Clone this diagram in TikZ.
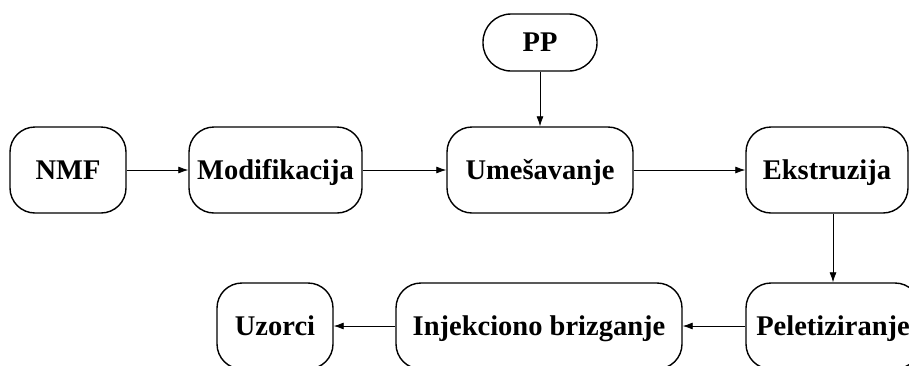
\documentclass[tikz,border=0pt]{standalone}
\usepackage{fontspec}
\setmainfont{Liberation Serif}
\usetikzlibrary{arrows.meta}
\begin{document}
\begin{tikzpicture}[x=1pt,y=1pt,
  procbox/.style={draw, line width=1.4pt, rounded corners=25pt, inner sep=0pt,
    minimum height=86pt, text height=22pt, text depth=3.3pt,
    font=\fontsize{28.5}{32}\selectfont\bfseries},
  flow/.style={-{Latex[length=10pt,width=7pt]}, line width=0.8pt}]
\useasboundingbox (0,0) rectangle (909,-365);
\node[procbox, minimum width=116pt] (nmf) at (68,-170) {NMF};
\node[procbox, minimum width=173pt] (mod) at (275.5,-170) {Modifikacija};
\node[procbox, minimum width=186pt] (ume) at (540,-170) {Umešavanje};
\node[procbox, minimum width=162pt] (eks) at (827,-170) {Ekstruzija};
\node[procbox, minimum width=114pt, minimum height=57pt, rounded corners=28pt] (pp) at (540,-42.5) {PP};
\node[procbox, minimum width=116pt] (uzo) at (275,-326) {Uzorci};
\node[procbox, minimum width=286pt] (inj) at (539,-326) {Injekciono brizganje};
\node[procbox, minimum width=174pt] (pel) at (833,-326) {Peletiziranje};
\draw[flow] (nmf) -- (mod);
\draw[flow] (mod) -- (ume);
\draw[flow] (ume) -- (eks);
\draw[flow] (pp) -- (ume);
\draw[flow] (eks.south -| pel.north) -- (pel.north);
\draw[flow] (pel) -- (inj);
\draw[flow] (inj) -- (uzo);
\end{tikzpicture}
\end{document}
